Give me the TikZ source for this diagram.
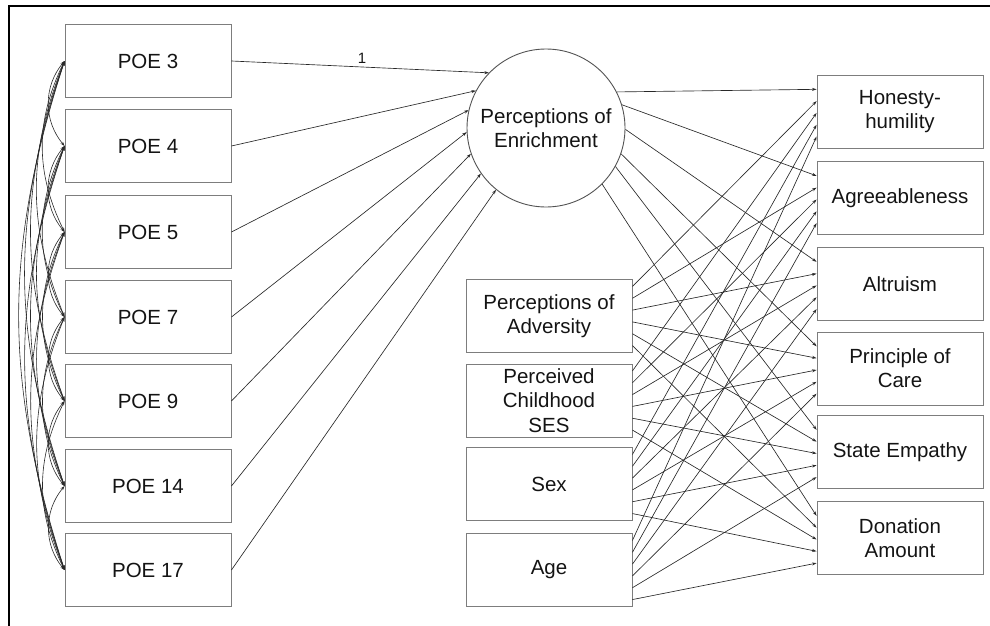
\documentclass[tikz,border=0pt]{standalone}
\usepackage{fontspec}
\setmainfont{Liberation Sans}
\usetikzlibrary{arrows.meta,calc}
\definecolor{boxgray}{RGB}{125,125,125}
\definecolor{linegray}{RGB}{40,40,40}
\tikzset{
  varbox/.style={draw=boxgray, line width=0.9pt, minimum width=166pt, minimum height=73pt, inner sep=0pt, align=center, text=black!92, font=\fontsize{20.5}{24}\selectfont},
  latent/.style={draw=linegray!80, line width=0.9pt, circle, minimum size=158pt, inner sep=0pt, align=center, text=black!92, font=\fontsize{20.5}{23.5}\selectfont},
  path/.style={draw=linegray, line width=0.65pt, -{Stealth[length=4.5pt,width=3pt]}},
  cov/.style={draw=linegray, line width=0.6pt, {Stealth[length=4.5pt,width=3pt]}-{Stealth[length=4.5pt,width=3pt]}},
  frameline/.style={draw=black, line width=2.6pt},
  weight/.style={font=\fontsize{15}{17}\selectfont, text=black!92, inner sep=0pt}
}
\begin{document}
\begin{tikzpicture}[x=1pt, y=-1pt]
\useasboundingbox (0,0) rectangle (990,626);
\coordinate (fa) at (9,640);
\coordinate (fb) at (9,6);
\coordinate (fc) at (1000,6);
\draw[frameline] (fa) -- (fb) -- (fc);

% POE indicators
\node[varbox] (poe1) at (148,61) {POE 3};
\node[varbox] (poe2) at (148,146) {POE 4};
\node[varbox] (poe3) at (148,232) {POE 5};
\node[varbox] (poe4) at (148,317) {POE 7};
\node[varbox] (poe5) at (148,401) {POE 9};
\node[varbox] (poe6) at (148,486) {POE 14};
\node[varbox] (poe7) at (148,570) {POE 17};

% latent
\node[latent] (enr) at (546,128) {Perceptions of\\Enrichment};

% middle predictors
\node[varbox] (mid1) at (549,316) {Perceptions of\\Adversity};
\node[varbox, font=\fontsize{20.5}{24.5}\selectfont] (mid2) at (549,400.5) {Perceived\\Childhood\\SES};
\node[varbox] (mid3) at (549,484) {Sex};
\node[varbox] (mid4) at (549,570) {Age};

% outcomes
\node[varbox] (out1) at (900,111.5) {Honesty-\\humility};
\node[varbox] (out2) at (900,198) {Agreeableness};
\node[varbox] (out3) at (900,284) {Altruism};
\node[varbox] (out4) at (900,368.5) {Principle of\\Care};
\node[varbox] (out5) at (900,452) {State Empathy};
\node[varbox] (out6) at (900,538) {Donation\\Amount};

% POE -> latent
\foreach \i/\a in {1/136,2/152,3/167,4/183,5/199,6/215,7/231} {
  \draw[path] (poe\i.east) -- (enr.\a);
}
\node[weight] (w1) at (362,58) {1};

% latent -> outcomes
\foreach \j/\a in {1/27,2/17,3/-1,4/-19,5/-29,6/-45} {
  \draw[path] (enr.\a) -- ($(out\j.north west)!0.2!(out\j.south west)$);
}

% middle -> outcomes
\foreach \i in {1,...,4} {
  \foreach \j in {1,...,6} {
    \pgfmathsetmacro\fs{0.1+0.16*(\j-1)}
    \pgfmathsetmacro\ft{0.2+0.16*\i}
    \draw[path] ($(mid\i.north east)!\fs!(mid\i.south east)$) -- ($(out\j.north west)!\ft!(out\j.south west)$);
  }
}

% covariances among POE items
\foreach \a in {1,...,6} {
  \pgfmathtruncatemacro\s{\a+1}
  \foreach \b in {\s,...,7} {
    \pgfmathtruncatemacro\n{\b-\a}
    \pgfmathsetmacro\ang{asin((10+6*\n)/(0.294*85*\n))}
    \draw[cov] (poe\a.west) to[bend right=\ang] (poe\b.west);
  }
}
\end{tikzpicture}
\end{document}
